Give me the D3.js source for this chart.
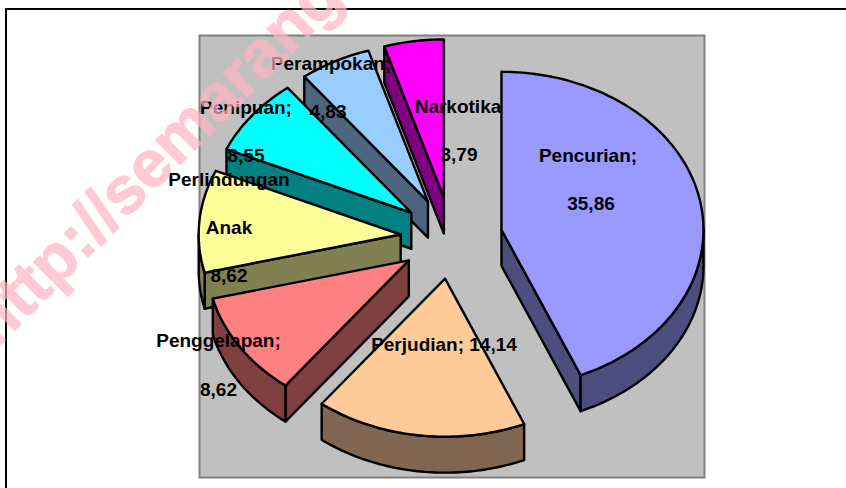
<!DOCTYPE html>
<html><head><meta charset="utf-8">
<script src="https://cdn.jsdelivr.net/npm/d3@7"></script>
<style>html,body{margin:0;padding:0;background:#fff;overflow:hidden}svg{display:block}</style>
</head><body><svg id="c" width="846" height="488"></svg>
<script>
// ---- data ----
const categories = ["Pencurian","Perjudian","Penggelapan","Perlindungan Anak","Penipuan","Perampokan","Narkotika"];
const values = [35.86,14.14,8.62,8.62,8.55,4.83,3.79];
const labelLines = [["Pencurian;","35,86"],["Perjudian; 14,14"],["Penggelapan;","8,62"],["Perlindungan","Anak","8,62"],["Penipuan;","8,55"],["Perampokan;","4,83"],["Narkotika","3,79"]];
const topColors = ["#9999FF","#FFCC99","#FF8080","#FFFF99","#00FFFF","#99CCFF","#FF00FF"];
const wallColors = ["#4D4D80","#806650","#804040","#808050","#008080","#4D6680","#800080"];
// Excel's 3-D view shifts the slice boundaries a little: degrees added to each boundary.
const boundaryNudge = [4,4.4,6,7,-1,-1,0];
const paintOrder = [6,5,4,3,2,0,1];
// ---- layout ----
const labelAnchors = [[[588,162],[591,210]],[[444,351]],[[218.5,347],[218.5,396]],[[229,186],[229,234],[229,282]],[[246,114],[246,162]],[[331,70],[328,118]],[[458,113],[459,161]]];
const cx=451.5, cy=238, rx=202, ry=158, ex=51, ey=41, depth=36;
const plot={x:199.5,y:35.5,w:505,h:442};
const rad=d=>d*Math.PI/180;

const svg=d3.select("#c");
svg.append("rect").attr("x",6).attr("y",9).attr("width",900).attr("height",600).attr("fill","#fff").attr("stroke","#000").attr("stroke-width",2);
svg.append("rect").attr("x",plot.x).attr("y",plot.y).attr("width",plot.w).attr("height",plot.h).attr("fill","#C0C0C0").attr("stroke","#808080").attr("stroke-width",2);

const pie=d3.pie().sort(null).value(d=>d).startAngle(0).endAngle(2*Math.PI)(values);
const slices=pie.map((p,i)=>{
  const a0=p.startAngle+(i?rad(boundaryNudge[i-1]):0), a1=p.endAngle+rad(boundaryNudge[i]);
  const mid=(a0+a1)/2;
  return {i,a0,a1,ax:cx+ex*Math.sin(mid),ay:cy-ey*Math.cos(mid)};
});
const rim=(s,a,dy=0)=>[s.ax+rx*Math.sin(a),s.ay-ry*Math.cos(a)+dy];
const samples=(a,b)=>{const n=Math.max(2,Math.ceil((b-a)/rad(1)));return d3.range(n+1).map(k=>a+(b-a)*k/n);};
const line=d3.line();
const g=svg.append("g").attr("stroke","#000").attr("stroke-width",2.4).attr("stroke-linejoin","round");
paintOrder.forEach(i=>{
  const s=slices[i], apex=[s.ax,s.ay], down=[s.ax,s.ay+depth];
  // cut faces: only the ones turned towards the viewer
  [s.a0,s.a1].forEach((a,k)=>{
    if(k===0 ? a<=Math.PI : a>=Math.PI) return;
    g.append("path").attr("d",line([apex,rim(s,a),rim(s,a,depth),down])+"Z").attr("fill",wallColors[i]);
  });
  // rim wall, front half only
  const w0=Math.max(s.a0,rad(90)), w1=Math.min(s.a1,rad(270));
  if(w1>w0){
    const pts=samples(w0,w1);
    g.append("path").attr("d",line(pts.map(a=>rim(s,a)).concat(pts.slice().reverse().map(a=>rim(s,a,depth))))+"Z").attr("fill",wallColors[i]);
  }
  g.append("path").attr("d",line([apex].concat(samples(s.a0,s.a1).map(a=>rim(s,a))))+"Z").attr("fill",topColors[i]);
});
// labels
const lab=svg.append("g").attr("font-family","'Liberation Sans',Arial,sans-serif").attr("font-weight","bold").attr("font-size",19).attr("fill","#000").attr("text-anchor","middle");
labelLines.forEach((ls,i)=>ls.forEach((t,j)=>{
  lab.append("text").attr("x",labelAnchors[i][j][0]).attr("y",labelAnchors[i][j][1]).text(t);
}));
// watermark
svg.append("text").attr("transform","translate(-4.5,349.5) rotate(-45)").attr("font-family","'Liberation Sans',Arial,sans-serif").attr("font-weight","bold").attr("font-size",66).attr("fill","#FFB5C4").attr("stroke","#FFB5C4").attr("stroke-width",1.2).attr("opacity",0.7).text("http://semarang");
</script></body></html>
